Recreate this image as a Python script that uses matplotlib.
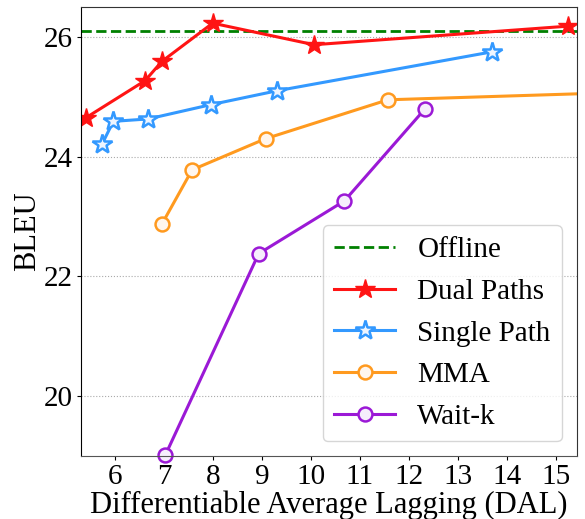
import matplotlib.pyplot as plt

plt.rcParams["font.family"] = ["Liberation Serif", "DejaVu Serif"]

offline_bleu = 26.1

dual_dal = [5.40, 6.61, 6.95, 7.99, 10.06, 15.25]
dual_bleu = [24.65, 25.27, 25.59, 26.23, 25.87, 26.18]

single_dal = [5.73, 5.96, 6.67, 7.96, 9.30, 13.69]
single_bleu = [24.21, 24.59, 24.63, 24.87, 25.10, 25.75]

mma_dal = [6.95, 7.57, 9.07, 11.57, 17.0]
mma_bleu = [22.87, 23.78, 24.30, 24.95, 25.09]

waitk_dal = [7.02, 8.93, 10.68, 12.33]
waitk_bleu = [19.01, 22.38, 23.26, 24.80]

fig, ax = plt.subplots(figsize=(5.85, 5.19), dpi=100)

ax.axhline(offline_bleu, color="green", linestyle="--", linewidth=2, label="Offline")

ax.plot(dual_dal, dual_bleu, color="#ff1414", marker="*", markersize=15,
        linewidth=2.2, label="Dual Paths")
ax.plot(single_dal, single_bleu, color="#3399ff", marker="*", markersize=15,
        markerfacecolor="#eef5ff", markeredgewidth=1.8, linewidth=2.2,
        label="Single Path")
ax.plot(mma_dal, mma_bleu, color="#ff9a1f", marker="o", markersize=10,
        markerfacecolor="#fff6ee", markeredgewidth=1.8, linewidth=2.2,
        label="MMA")
ax.plot(waitk_dal, waitk_bleu, color="#9b19d6", marker="o", markersize=10,
        markerfacecolor="#f6eefc", markeredgewidth=1.8, linewidth=2.2,
        label="Wait-k", clip_on=False)

ax.set_xlim(5.3, 15.43)
ax.set_ylim(19.0, 26.5)
ax.set_xticks(range(6, 16))
ax.set_yticks([20, 22, 24, 26])
ax.tick_params(labelsize=21, length=3, pad=3)
ax.yaxis.grid(True, linestyle=":", color="#aaaaaa", linewidth=0.8)
ax.set_axisbelow(True)
ax.spines["bottom"].set_color("#555555")
ax.spines["top"].set_color("#333333")
ax.spines["right"].set_color("#333333")

ax.set_xlabel("Differentiable Average Lagging (DAL)", fontsize=22, labelpad=0)
ax.set_ylabel("BLEU", fontsize=22, labelpad=1)

ax.legend(loc="lower right", fontsize=21, handlelength=2.1, handletextpad=0.75,
          labelspacing=0.52, borderpad=0.4, fancybox=True)

plt.subplots_adjust(left=0.1385, right=0.986, top=0.9865, bottom=0.1214)
plt.savefig("out.png")
